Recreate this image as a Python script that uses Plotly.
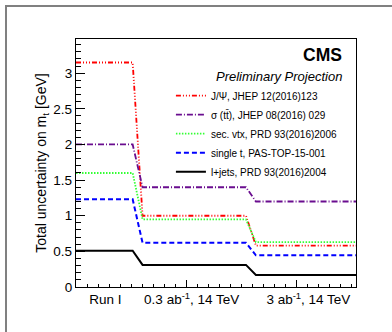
import plotly.graph_objects as go

# ---- data ----
stage_labels = ["Run I", "0.3 ab<sup>-1</sup>, 14 TeV", "3 ab<sup>-1</sup>, 14 TeV"]
stage_label_pos = [0.266, 1.052, 2.112]
step_centers = [0.56, 1.59]
step_half = 0.045
x_start, x_end = 0.0, 2.545

jpsi = [3.15, 1.00, 0.58]
sigma_tt = [2.00, 1.40, 1.20]
sec_vtx = [1.60, 0.95, 0.63]
single_t = [1.23, 0.62, 0.445]
ljets = [0.51, 0.31, 0.17]

names = [
    "J/Ψ, JHEP 12(2016)123",
    "σ (tt\u0304), JHEP 08(2016) 029",
    "sec. vtx, PRD 93(2016)2006",
    "single t, PAS-TOP-15-001",
    "l+jets, PRD 93(2016)2004",
]
series = [jpsi, sigma_tt, sec_vtx, single_t, ljets]
colors = ["#ff0000", "#6a0d8f", "#33ff33", "#0000ff", "#000000"]
dashes = ["5px,2px,1px,2px,1px,2px,1px,2px", "6px,2px,1px,2px", "1.5px,1.5px", "5px,3px", "solid"]
widths = [1.8, 1.8, 1.8, 2.0, 2.0]

FONT = "Liberation Sans, Arial, Helvetica, sans-serif"


def step_xy(vals):
    xs = [x_start]
    ys = [vals[0]]
    for i, c in enumerate(step_centers):
        xs += [c - step_half, c + step_half]
        ys += [vals[i], vals[i + 1]]
    xs.append(x_end)
    ys.append(vals[-1])
    return xs, ys


fig = go.Figure()
for nm, vals, col, ds, w in zip(names, series, colors, dashes, widths):
    xs, ys = step_xy(vals)
    fig.add_trace(go.Scatter(
        x=xs, y=ys, mode="lines", name=nm,
        line=dict(color=col, dash=ds, width=w, shape="linear"),
    ))

# helper trace carrying the tick-only axis
fig.add_trace(go.Scatter(x=[x_start], y=[0], xaxis="x2", mode="markers", opacity=0,
                         showlegend=False, hoverinfo="skip"))

fig.update_layout(
    width=392, height=332,
    margin=dict(l=76, r=36, t=39, b=45, autoexpand=False),
    paper_bgcolor="white", plot_bgcolor="white",
    font=dict(family=FONT, color="black"),
    showlegend=True,
    legend=dict(
        x=0.339, xanchor="left", y=0.83, yanchor="top",
        bgcolor="rgba(0,0,0,0)", font=dict(size=10, family=FONT),
        itemwidth=30,
    ),
    xaxis=dict(
        range=[x_start, x_end], tickvals=stage_label_pos, ticktext=stage_labels,
        ticks="", showgrid=False, zeroline=False, showline=True, mirror=True, automargin=False,
        linecolor="black", linewidth=1.3, tickfont=dict(size=13.5, family=FONT),
    ),
    xaxis2=dict(
        range=[x_start, x_end], overlaying="x", anchor="y", side="bottom",
        dtick=1, tick0=0, ticks="inside", ticklen=7, tickcolor="black", automargin=False,
        showticklabels=False, showgrid=False, zeroline=False, showline=False,
        minor=dict(dtick=0.1, tick0=0, ticks="inside", ticklen=3.5, tickcolor="black", showgrid=False),
    ),
    yaxis=dict(
        range=[0, 3.48], dtick=0.5, tick0=0, ticks="inside", ticklen=9, tickcolor="black",
        minor=dict(dtick=0.1, tick0=0, ticks="inside", ticklen=5, tickcolor="black", showgrid=False),
        showgrid=False, zeroline=False, showline=True, mirror=True, linecolor="black", linewidth=1.3,
        tickfont=dict(size=13.5, family=FONT), automargin=False,
        title=dict(text="Total uncertainty on m<sub>t</sub> [GeV]", font=dict(size=14, family=FONT), standoff=3),
    ),
)

fig.add_annotation(text="<b>CMS</b>", xref="paper", yref="paper", x=0.957, y=0.935,
                   xanchor="right", yanchor="middle", showarrow=False,
                   font=dict(size=17.5, family=FONT, color="black"))
fig.add_annotation(text="<i>Preliminary Projection</i>", xref="paper", yref="paper", x=0.957, y=0.847,
                   xanchor="right", yanchor="middle", showarrow=False,
                   font=dict(size=13, family=FONT, color="black"))

# outer canvas frame (extends beyond the cropped picture on right and bottom)
fig.add_shape(type="rect", xref="paper", yref="paper", x0=-0.25, x1=1.2, y0=-0.3, y1=1.133,
              line=dict(color="#808080", width=2), fillcolor="rgba(0,0,0,0)", layer="below")

fig.write_html("out.html", config={"displayModeBar": False},
               post_script="document.body.style.margin='0';")
